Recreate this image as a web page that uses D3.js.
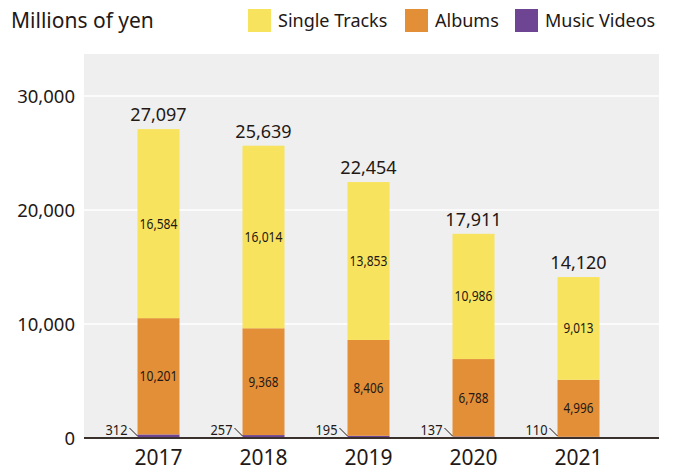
<!DOCTYPE html>
<html>
<head>
<meta charset="utf-8">
<script src="https://cdn.jsdelivr.net/npm/d3@7"></script>
<style>
  body { margin: 0; background: #fff; }
  text { font-family: 'Noto Sans', sans-serif; fill: #231815; }
</style>
</head>
<body>
<svg width="677" height="470"></svg>
<script>
const years = ['2017', '2018', '2019', '2020', '2021']
const videos = [312, 257, 195, 137, 110]
const albums = [10201, 9368, 8406, 6788, 4996]
const singles = [16584, 16014, 13853, 10986, 9013]
const totals = [27097, 25639, 22454, 17911, 14120]
const yTicks = [0, 10000, 20000, 30000]

const seriesNames = ['Music Videos', 'Albums', 'Single Tracks']
const colors = {'Single Tracks': '#f8e35f', 'Albums': '#e38f38', 'Music Videos': '#6e4593'}

const svg = d3.select('svg')
const plot = {left: 84, right: 659, top: 54, bottom: 438}

const rows = years.map((y, i) => ({
  year: y,
  'Music Videos': videos[i],
  'Albums': albums[i],
  'Single Tracks': singles[i],
  total: totals[i]
}))

const xScale = d3.scaleBand()
  .domain(years)
  .range([106, 631])
  .paddingInner(0.6)
  .paddingOuter(0.3)

const yScale = d3.scaleLinear()
  .domain([0, 30000])
  .range([plot.bottom, 96])

// background
svg.append('rect')
  .attr('x', plot.left).attr('y', plot.top)
  .attr('width', plot.right - plot.left).attr('height', plot.bottom - plot.top)
  .attr('fill', '#efefef')

// grid
svg.append('g').selectAll('line')
  .data(yTicks.filter(t => t > 0))
  .enter().append('line')
  .attr('x1', plot.left).attr('x2', plot.right)
  .attr('y1', d => yScale(d)).attr('y2', d => yScale(d))
  .attr('stroke', '#fff').attr('stroke-width', 1.5)

// y labels
svg.append('g').selectAll('text')
  .data(yTicks)
  .enter().append('text')
  .attr('x', 75).attr('y', d => yScale(d) + 7)
  .attr('text-anchor', 'end')
  .attr('font-size', 18.5)
  .text(d3.format(','))

// stacked bars
const stacked = d3.stack().keys(seriesNames)(rows)

svg.append('g').selectAll('g')
  .data(stacked)
  .enter().append('g')
  .attr('fill', d => colors[d.key])
  .selectAll('rect')
  .data(d => d)
  .enter().append('rect')
  .attr('x', d => xScale(d.data.year))
  .attr('width', xScale.bandwidth())
  .attr('y', d => yScale(d[1]))
  .attr('height', d => yScale(d[0]) - yScale(d[1]))

// inner labels for singles and albums
stacked.filter(s => s.key !== 'Music Videos').forEach(s => {
  svg.append('g').selectAll('text')
    .data(s)
    .enter().append('text')
    .attr('x', d => xScale(d.data.year) + xScale.bandwidth() / 2)
    .attr('y', d => yScale((d[0] + d[1]) / 2) + 5)
    .attr('text-anchor', 'middle')
    .attr('font-size', 14)
    .attr('textLength', d => d.data[s.key] >= 10000 ? 38 : 30)
    .attr('lengthAdjust', 'spacingAndGlyphs')
    .text(d => d3.format(',')(d.data[s.key]))
})

// totals
svg.append('g').selectAll('text')
  .data(rows)
  .enter().append('text')
  .attr('x', d => xScale(d.year) + xScale.bandwidth() / 2)
  .attr('y', d => yScale(d.total) - 8)
  .attr('text-anchor', 'middle')
  .attr('font-size', 18)
  .text(d => d3.format(',')(d.total))

// music video labels with leader lines
const mv = svg.append('g')
mv.selectAll('line')
  .data(rows)
  .enter().append('line')
  .attr('x1', d => xScale(d.year) - 8).attr('y1', d => yScale(0) - 10)
  .attr('x2', d => xScale(d.year)).attr('y2', d => yScale(0) - 2)
  .attr('stroke', '#231815').attr('stroke-width', 1)
mv.selectAll('text')
  .data(rows)
  .enter().append('text')
  .attr('x', d => xScale(d.year) - 10)
  .attr('y', d => yScale(0) - 3)
  .attr('text-anchor', 'end')
  .attr('font-size', 14)
  .attr('textLength', 22)
  .attr('lengthAdjust', 'spacingAndGlyphs')
  .text(d => d['Music Videos'])

// baseline
svg.append('line')
  .attr('x1', plot.left).attr('x2', plot.right)
  .attr('y1', yScale(0)).attr('y2', yScale(0))
  .attr('stroke', '#3a302c').attr('stroke-width', 2)

// x labels
svg.append('g').selectAll('text')
  .data(years)
  .enter().append('text')
  .attr('x', d => xScale(d) + xScale.bandwidth() / 2)
  .attr('y', 465)
  .attr('text-anchor', 'middle')
  .attr('font-size', 21)
  .text(d => d)

// unit title
svg.append('text')
  .attr('x', 11).attr('y', 28)
  .attr('font-size', 21)
  .text('Millions of yen')

// legend
const legendItems = [
  {name: 'Single Tracks', x: 248},
  {name: 'Albums', x: 405},
  {name: 'Music Videos', x: 515}
]
const lg = svg.append('g').selectAll('g')
  .data(legendItems)
  .enter().append('g')
  .attr('transform', d => `translate(${d.x}, 9)`)
lg.append('rect')
  .attr('width', 23).attr('height', 23)
  .attr('fill', d => colors[d.name])
lg.append('text')
  .attr('x', 30).attr('y', 18)
  .attr('font-size', 18)
  .text(d => d.name)
</script>
</body>
</html>
